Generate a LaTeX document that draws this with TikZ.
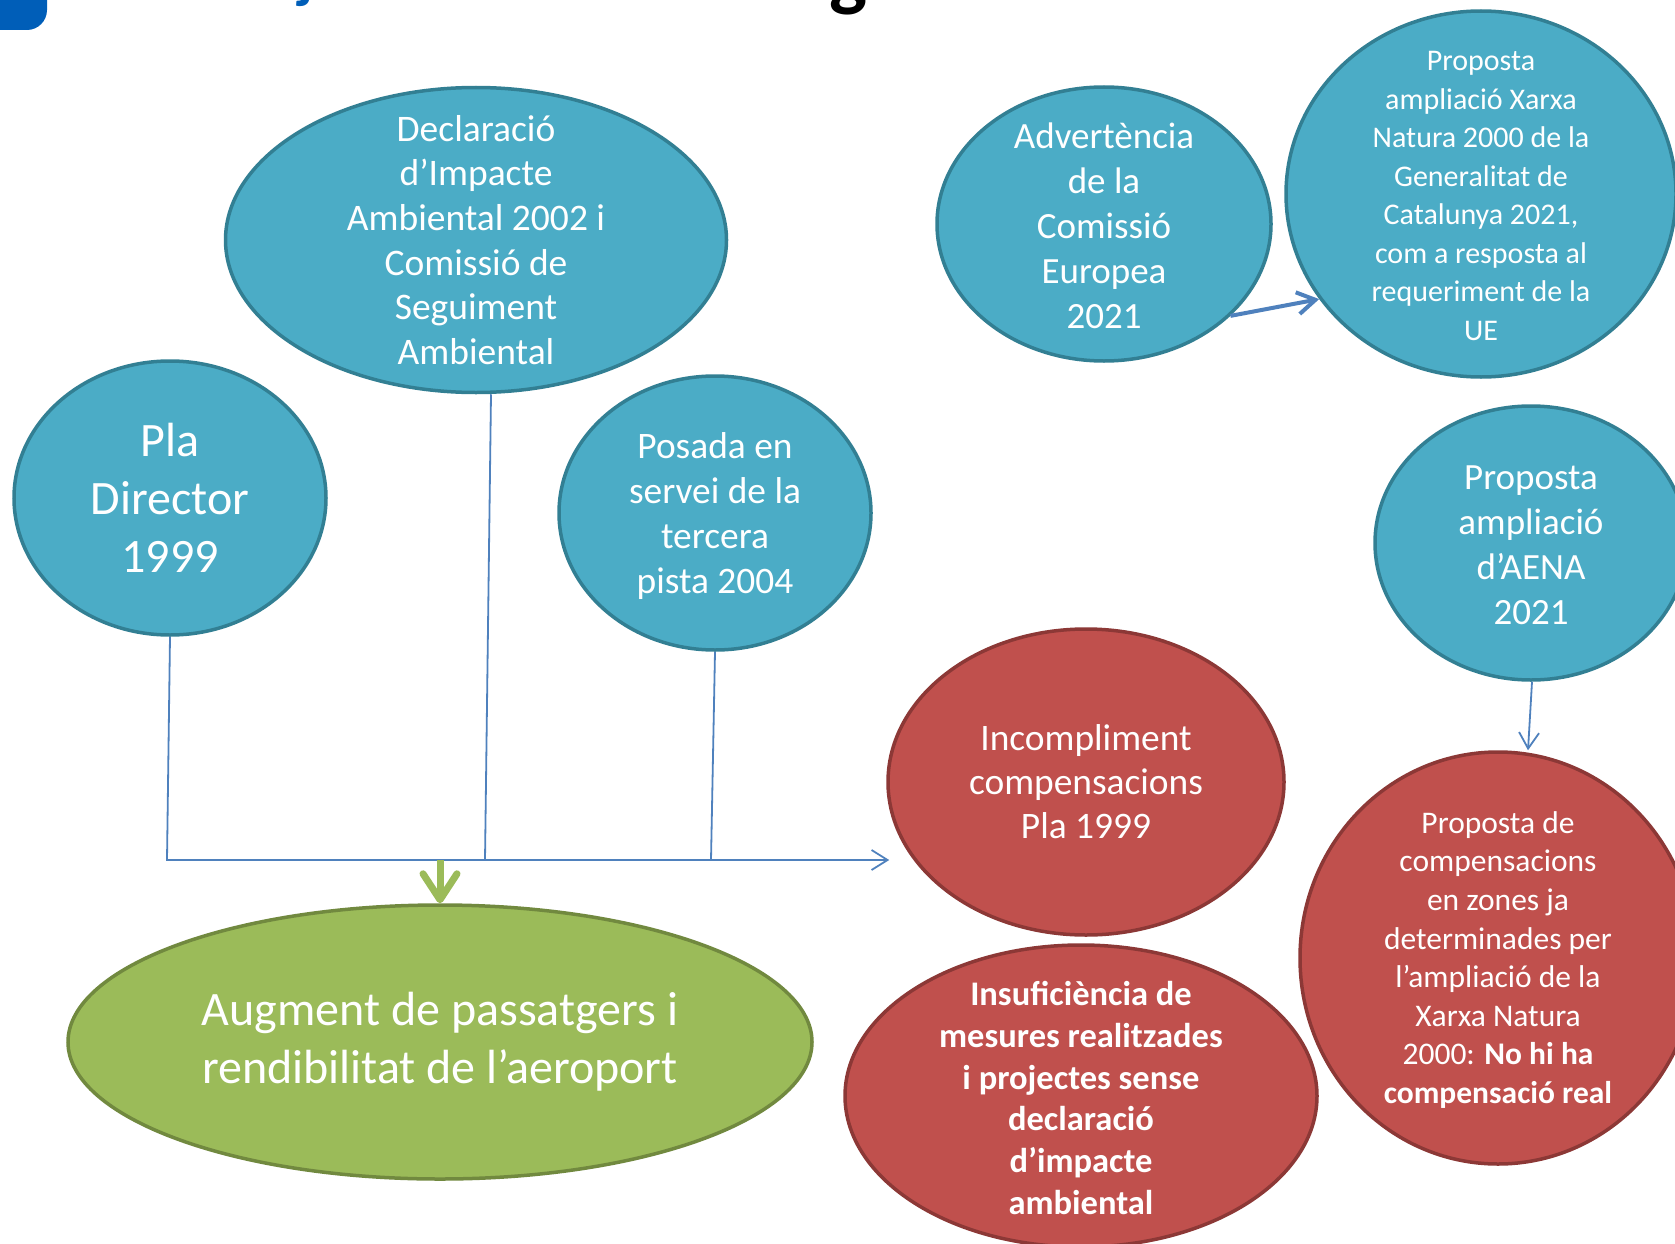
\documentclass[tikz,border=0pt]{standalone}
\usepackage{fontspec}
\setmainfont{Carlito}
\usetikzlibrary{shapes.geometric,arrows.meta,calc}
\definecolor{bfill}{HTML}{4BACC6}
\definecolor{bdraw}{HTML}{327F93}
\definecolor{rfill}{HTML}{C0504D}
\definecolor{rdraw}{HTML}{8C3836}
\definecolor{gfill}{HTML}{9BBB59}
\definecolor{gdraw}{HTML}{71893F}
\definecolor{lblue}{HTML}{4F81BD}
\definecolor{tblue}{HTML}{005EB8}
\begin{document}
\begin{tikzpicture}[x=1pt,y=-1pt,
  bub/.style={ellipse, line width=3.5pt, inner sep=0pt},
  bluebub/.style={bub, fill=bfill, draw=bdraw},
  redbub/.style={bub, fill=rfill, draw=rdraw},
  greenbub/.style={bub, fill=gfill, draw=gdraw},
  txt/.style={text=white, align=center, inner sep=0pt},
  conn/.style={draw=lblue, line width=1.8pt},
  tip/.style={-{Straight Barb[length=16pt,width=20pt]}},
  garrow/.style={draw=gfill, line width=7pt, -{Straight Barb[length=26pt,width=34pt,round]}},
]
\useasboundingbox (0,0) rectangle (1675,1244);
\begin{scope}
\clip (0,0) rectangle (1675,1244);
% title fragments
\fill[tblue, rounded corners=20pt] (-40,-40) rectangle (47,30);
\node[anchor=base west, inner sep=0pt, text=tblue, font=\fontsize{60}{60}\selectfont\bfseries] (tj) at (298,-3) {j};
\node[anchor=base west, inner sep=0pt, text=black, font=\fontsize{80}{80}\selectfont\bfseries] (tg) at (829,2) {g};

% ellipses
\node[bluebub, minimum width=501pt, minimum height=305pt] (decl) at (476,240) {};
\node[bluebub, minimum width=312pt, minimum height=274pt] (pla) at (170,498) {};
\node[bluebub, minimum width=312pt, minimum height=274pt] (pos) at (715,513) {};
\node[bluebub, minimum width=334pt, minimum height=274pt] (adv) at (1104,224) {};
\node[bluebub, minimum width=390pt, minimum height=366pt] (xar) at (1481,194) {};
\node[bluebub, minimum width=312pt, minimum height=274pt] (aena) at (1531,543) {};
\node[redbub, minimum width=396pt, minimum height=306pt] (inc) at (1086,782) {};
\node[redbub, minimum width=472pt, minimum height=302pt] (ins) at (1081,1096) {};
\node[redbub, minimum width=396pt, minimum height=412pt] (comp) at (1498,958) {};
\node[greenbub, minimum width=744pt, minimum height=274pt] (aug) at (440,1042) {};

% texts
\node[txt, font=\fontsize{37.5}{44.7}\selectfont] (declt) at (decl) {Declaració\\d’Impacte\\Ambiental 2002 i\\Comissió de\\Seguiment\\Ambiental};
\node[txt, font=\fontsize{48}{58}\selectfont] (plat) at (pla) {Pla\\Director\\1999};
\node[txt, font=\fontsize{37.4}{44.8}\selectfont] (post) at ($(pos)+(0,3)$) {Posada en\\servei de la\\tercera\\pista 2004};
\node[txt, font=\fontsize{37}{45}\selectfont] (advt) at ($(adv)+(0,2)$) {Advertència\\de la\\Comissió\\Europea\\2021};
\node[txt, font=\fontsize{30}{38.5}\selectfont] (xart) at ($(xar)+(0,2)$) {Proposta\\ampliació Xarxa\\Natura 2000 de la\\Generalitat de\\Catalunya 2021,\\com a resposta al\\requeriment de la\\UE};
\node[txt, font=\fontsize{37}{45}\selectfont] (aenat) at ($(aena)+(0,2)$) {Proposta\\ampliació\\d’AENA\\2021};
\node[txt, font=\fontsize{37.4}{44}\selectfont] (inct) at (inc) {Incompliment\\compensacions\\Pla 1999};
\node[txt, font=\fontsize{34.5}{41.7}\selectfont\bfseries] (inst) at ($(ins)+(0,2)$) {Insuficiència de\\mesures realitzades\\i projectes sense\\declaració\\d’impacte\\ambiental};
\node[txt, font=\fontsize{31.5}{38.6}\selectfont] (compt) at ($(comp)+(0,2)$) {Proposta de\\compensacions\\en zones ja\\determinades per\\l’ampliació de la\\Xarxa Natura\\2000: \textbf{No hi ha}\\\textbf{compensació real}};
\node[txt, font=\fontsize{48}{58}\selectfont] (augt) at (aug) {Augment de passatgers i\\rendibilitat de l’aeroport};

% connectors
\coordinate (bus) at (0,860);
\draw[conn, tip] (pla.south) -- ($(pla.south |- bus)+(-3,0)$) -- ($(inc.west |- bus)+(3,0)$);
\draw[conn] ($(decl.south)+(15,0)$) -- ($(decl.south |- bus)+(9,0)$);
\draw[conn] (pos.south) -- ($(pos.south |- bus)+(-4,0)$);
\draw[garrow] (aug.north |- bus) -- (aug.north);
\draw[conn, line width=4pt, -{Straight Barb[length=18pt,width=22pt]}] (adv.-36) -- (xar.213);
\draw[conn, tip] ($(aena.south)+(1,0)$) -- ($(comp.north)+(30,0)$);
\end{scope}
\end{tikzpicture}
\end{document}
